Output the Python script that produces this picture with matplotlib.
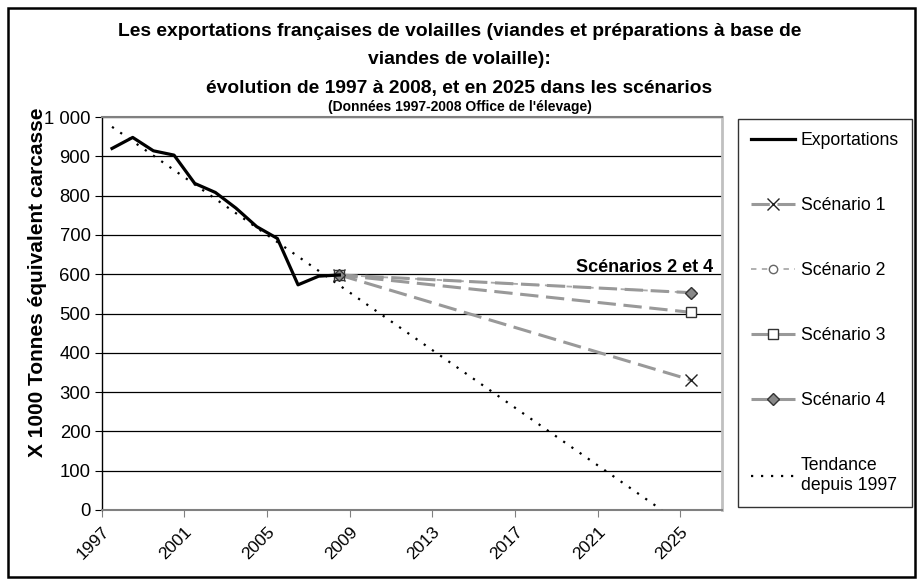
import numpy as np
import matplotlib.pyplot as plt
from matplotlib.patches import Rectangle

plt.rcParams['font.family'] = ['Liberation Sans', 'DejaVu Sans']

# exportations 1997-2008 (x 1000 t équivalent carcasse)
years = [1997, 1998, 1999, 2000, 2001, 2002, 2003, 2004, 2005, 2006, 2007, 2008]
exports = [920, 948, 914, 903, 831, 808, 768, 721, 691, 573, 595, 598]

# scénarios : 2008 -> 2025
scen_years = [2008, 2025]
scen1 = [598, 331]
scen2 = [598, 553]
scen3 = [598, 503]
scen4 = [598, 553]

# tendance depuis 1997
trend_years = [1997, 2023.6]
trend_values = [975, 0]

tick_years = [1997, 2001, 2005, 2009, 2013, 2017, 2021, 2025]
y_ticks = [0, 100, 200, 300, 400, 500, 600, 700, 800, 900, 1000]
y_labels = ['0', '100', '200', '300', '400', '500', '600', '700', '800', '900', '1 000']

W, H = 919, 582
fig = plt.figure(figsize=(W / 100, H / 100), dpi=100)
ax = fig.add_axes([101.7 / W, 1 - 510 / H, 620 / W, 393 / H])

# points au centre des catégories
cx = lambda ys: [y + 0.5 for y in ys]

grey = '#999999'
ax.plot(cx(years), exports, color='black', lw=2.3, zorder=5, label='Exportations')
ax.plot(cx(scen_years), scen1, color=grey, lw=2.2, dashes=(6, 2.5),
        marker='x', ms=8, mec='#222222', mew=1, zorder=4, label='Scénario 1')
ax.plot(cx(scen_years), scen3, color=grey, lw=2.2, dashes=(6, 2.5),
        marker='s', ms=7, mfc='white', mec='#333333', mew=1, zorder=4, label='Scénario 3')
ax.plot(cx(scen_years), scen4, color=grey, lw=2.2, dashes=(6, 2.5),
        marker='D', ms=6, mfc='#888888', mec='#333333', mew=1, zorder=4, label='Scénario 4')
ax.plot(cx(scen_years), scen2, color='#aaaaaa', lw=1.3, dashes=(3, 3),
        marker='o', ms=6, mfc='white', mec='#666666', mew=1, zorder=3, label='Scénario 2')
ax.plot(cx(trend_years), trend_values, color='black', lw=1.6, dashes=(1, 3.5),
        zorder=3, label='Tendance\ndepuis 1997')

ax.set_xlim(1997, 2027)
ax.set_ylim(0, 1000)
ax.set_xticks(tick_years)
ax.set_xticklabels([str(y) for y in tick_years], rotation=45, ha='right',
                   rotation_mode='anchor', fontsize=12.5)
ax.set_yticks(y_ticks)
ax.set_yticklabels(y_labels, fontsize=13.3)
ax.tick_params(axis='x', direction='out', length=5, color='#808080', pad=5)
ax.tick_params(axis='y', direction='out', length=5, color='black', pad=3)
ax.grid(axis='y', color='black', lw=0.9)
ax.set_axisbelow(True)

ax.spines['left'].set_color('black')
ax.spines['left'].set_linewidth(1.0)
ax.spines['bottom'].set_color('#808080')
ax.spines['bottom'].set_linewidth(1.5)
ax.spines['top'].set_color('#808080')
ax.spines['top'].set_linewidth(1.5)
ax.spines['right'].set_color('#c0c0c0')
ax.spines['right'].set_linewidth(2)

ax.set_ylabel('X 1000 Tonnes équivalent carcasse', fontsize=15, fontweight='bold')
ax.yaxis.set_label_coords(-(101.7 - 47) / 620, 0.58)

ax.text(2026.6, 618, 'Scénarios 2 et 4', ha='right', va='center',
        fontsize=13, fontweight='bold')

# titre
fig.text(0.5, 1 - 32 / H, "Les exportations françaises de volailles (viandes et préparations à base de",
         ha='center', va='center', fontsize=13.9, fontweight='bold')
fig.text(0.5, 1 - 60 / H, "viandes de volaille):",
         ha='center', va='center', fontsize=13.9, fontweight='bold')
fig.text(0.5, 1 - 88 / H, "évolution de 1997 à 2008, et en 2025 dans les scénarios",
         ha='center', va='center', fontsize=13.9, fontweight='bold')
fig.text(0.5, 1 - 107 / H, "(Données 1997-2008 Office de l'élevage)",
         ha='center', va='center', fontsize=10, fontweight='bold')

# légende
h, l = ax.get_legend_handles_labels()
order = ['Exportations', 'Scénario 1', 'Scénario 2', 'Scénario 3', 'Scénario 4', 'Tendance\ndepuis 1997']
hd = dict(zip(l, h))
leg = fig.legend([hd[k] for k in order], order, loc='upper left',
                 bbox_to_anchor=(738 / W, 1 - 511 / H, 174 / W, 392 / H),
                 mode='expand', borderaxespad=0, fontsize=12.7, numpoints=1,
                 handlelength=2.5, handletextpad=0.3, labelspacing=2.72,
                 fancybox=False, frameon=True, borderpad=0.75)
leg.get_frame().set_edgecolor('black')
leg.get_frame().set_linewidth(1)

# cadre extérieur
fig.patches.append(Rectangle((8 / W, 5 / H), 907 / W, 569 / H, transform=fig.transFigure,
                             fill=False, edgecolor='black', lw=1.8))

fig.savefig('out.png', dpi=100)
